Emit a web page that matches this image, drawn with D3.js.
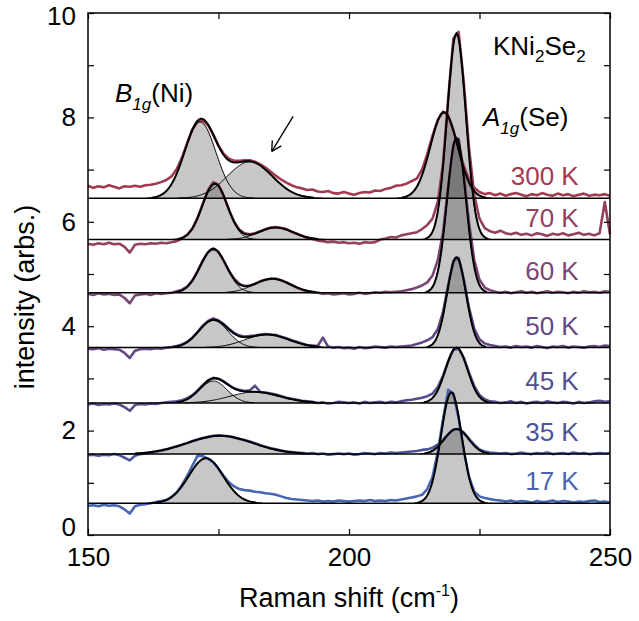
<!DOCTYPE html>
<html>
<head>
<meta charset="utf-8">
<script src="https://cdn.jsdelivr.net/npm/d3@7"></script>
<style>
  body { margin: 0; background: #fff; }
  svg text { font-family: "Liberation Sans", Arial, Helvetica, sans-serif; }
</style>
</head>
<body>
<svg id="chart" width="639" height="621"></svg>
<script>
// spectra, top to bottom
const temps = ["300 K", "70 K", "60 K", "50 K", "45 K", "35 K", "17 K"];
const colors = ["#a33a50", "#94405e", "#7b4573", "#634884", "#544e8e", "#4b5599", "#4865b0"];
const offsets = [6.45, 5.66, 4.64, 3.59, 2.53, 1.55, 0.61];

// fitted gaussians [centre, amplitude, sigma]
const b1gFits = [
  [[171.5, 1.46, 3.0], [181, 0.70, 4.3]],
  [[174.3, 1.07, 2.4], [186, 0.23, 3.3]],
  [[174, 0.84, 2.5], [185.3, 0.27, 3.4]],
  [[174, 0.52, 2.8], [184.3, 0.25, 4.2]],
  [[174, 0.42, 2.6], [182, 0.21, 4.8]],
  [[175.3, 0.35, 6.3]],
  [[172.6, 0.86, 3.3]]
];
const a1gFits = [
  [218.2, 1.65, 2.6],
  [220.6, 3.95, 1.8],
  [220.6, 2.97, 1.8],
  [220.6, 1.73, 1.8],
  [220.6, 1.06, 2.1],
  [220.6, 0.48, 2.3],
  [219.6, 2.12, 2.0]
];

// measured spectra, 150..250 cm-1 in 1 cm-1 steps, relative to each baseline
const raw300 = [0.24,0.20,0.23,0.21,0.25,0.22,0.19,0.23,0.22,0.24,
  0.22,0.25,0.26,0.28,0.31,0.35,0.42,0.56,0.78,1.06,
  1.32,1.47,1.49,1.40,1.22,1.01,0.85,0.76,0.72,0.72,
  0.73,0.73,0.70,0.65,0.59,0.51,0.43,0.36,0.30,0.25,
  0.21,0.19,0.16,0.17,0.13,0.12,0.14,0.10,0.09,0.12,
  0.09,0.07,0.10,0.12,0.11,0.15,0.14,0.18,0.20,0.24,
  0.25,0.28,0.33,0.38,0.55,0.85,1.20,1.50,1.66,1.58,
  1.30,0.95,0.62,0.36,0.20,0.12,0.08,0.10,0.06,0.09,
  0.05,0.08,0.10,0.07,0.04,0.08,0.06,0.10,0.07,0.05,
  0.09,0.06,0.08,0.04,0.07,0.09,0.05,0.07,0.06,0.08,
  0.05];
const raw70 = [-0.08,-0.10,-0.07,-0.09,-0.06,-0.09,-0.08,-0.14,-0.25,-0.10,
  -0.08,-0.09,-0.07,-0.08,-0.06,-0.07,-0.05,-0.03,0.02,0.09,
  0.21,0.42,0.69,0.95,1.10,1.05,0.84,0.57,0.34,0.19,
  0.12,0.10,0.12,0.16,0.20,0.23,0.24,0.22,0.20,0.15,
  0.11,0.07,0.03,0.01,-0.02,-0.03,-0.05,-0.04,-0.06,-0.05,
  -0.07,-0.06,-0.08,-0.05,-0.06,-0.05,0.00,0.02,0.05,0.04,
  0.08,0.10,0.12,0.14,0.20,0.28,0.40,0.72,1.45,2.70,
  3.85,3.98,3.00,1.75,0.85,0.40,0.22,0.16,0.13,0.17,
  0.12,0.10,0.13,0.09,0.11,0.08,0.12,0.10,0.07,0.11,
  0.09,0.12,0.08,0.10,0.13,0.09,0.11,0.08,0.12,0.72,
  0.10];
const raw60 = [-0.02,-0.04,-0.01,-0.03,-0.02,-0.04,-0.03,-0.10,-0.20,-0.05,
  -0.03,-0.02,-0.04,-0.01,-0.02,-0.01,0.00,0.03,0.06,0.12,
  0.24,0.42,0.62,0.78,0.85,0.78,0.61,0.42,0.27,0.17,
  0.13,0.14,0.17,0.22,0.25,0.27,0.27,0.24,0.20,0.15,
  0.10,0.06,0.03,0.01,0.00,-0.02,-0.01,-0.03,-0.02,-0.01,
  -0.03,-0.02,0.00,-0.02,-0.01,0.01,0.00,0.02,0.01,0.02,
  0.03,0.05,0.07,0.10,0.14,0.20,0.33,0.62,1.15,2.05,
  2.85,2.95,2.25,1.35,0.62,0.25,0.10,0.05,0.02,0.00,
  0.02,-0.01,0.01,0.03,0.00,0.02,-0.01,0.01,0.03,0.00,
  0.02,0.01,-0.01,0.02,0.00,0.03,0.01,0.02,0.00,0.03,
  0.02];
const raw50 = [-0.02,-0.03,-0.01,-0.04,-0.02,-0.03,-0.04,-0.10,-0.20,-0.06,
  -0.03,-0.02,-0.03,-0.01,-0.02,0.00,0.01,0.03,0.06,0.11,
  0.19,0.30,0.42,0.51,0.56,0.52,0.45,0.36,0.28,0.23,
  0.21,0.22,0.23,0.25,0.26,0.25,0.24,0.21,0.18,0.14,
  0.11,0.08,0.05,0.04,0.03,0.19,0.02,0.00,0.01,-0.01,
  0.00,-0.02,0.01,-0.01,0.00,0.02,0.01,0.00,0.02,0.01,
  0.02,0.03,0.04,0.07,0.10,0.14,0.20,0.35,0.68,1.20,
  1.66,1.72,1.30,0.76,0.36,0.16,0.08,0.05,0.03,0.01,
  0.02,0.00,0.03,0.01,0.02,0.00,0.03,0.01,-0.01,0.02,
  0.01,0.03,0.00,0.02,0.01,0.00,0.02,0.03,0.01,0.04,
  0.03];
const raw45 = [-0.03,-0.01,-0.04,-0.02,-0.03,-0.01,-0.03,-0.08,-0.15,-0.04,
  -0.02,-0.03,-0.01,-0.02,0.00,0.01,0.02,0.03,0.05,0.09,
  0.15,0.24,0.34,0.43,0.48,0.46,0.41,0.34,0.28,0.25,
  0.23,0.24,0.33,0.21,0.20,0.18,0.16,0.13,0.10,0.08,
  0.06,0.04,0.03,0.02,0.00,0.01,-0.01,0.00,0.02,0.01,
  0.00,0.01,-0.01,0.02,0.00,0.01,0.02,0.00,0.02,0.01,
  0.03,0.05,0.06,0.08,0.10,0.13,0.18,0.30,0.52,0.80,
  1.02,1.04,0.86,0.58,0.32,0.15,0.07,0.03,0.02,0.00,
  0.01,0.03,0.00,0.02,-0.01,0.01,0.02,0.00,0.03,0.01,
  0.00,0.02,0.01,-0.01,0.02,0.00,0.01,0.03,0.04,0.02,
  0.03];
const raw35 = [-0.02,-0.01,-0.03,-0.01,-0.02,0.00,-0.02,-0.07,-0.12,-0.03,
  0.00,0.01,0.03,0.05,0.07,0.09,0.12,0.15,0.18,0.21,
  0.25,0.28,0.31,0.33,0.35,0.36,0.35,0.34,0.32,0.29,
  0.27,0.24,0.21,0.17,0.14,0.11,0.09,0.07,0.05,0.04,
  0.03,0.02,0.01,0.02,0.00,0.01,-0.01,0.00,0.01,0.00,
  0.01,-0.01,0.00,0.02,0.01,0.00,0.02,0.01,0.03,0.02,
  0.03,0.04,0.05,0.06,0.08,0.09,0.12,0.18,0.27,0.38,
  0.47,0.48,0.41,0.29,0.18,0.09,0.05,0.03,0.02,0.01,
  0.02,0.00,0.01,0.03,0.01,0.00,0.02,0.01,0.03,0.00,
  0.01,0.02,0.00,0.03,0.01,0.02,0.00,0.01,0.02,0.01,
  0.02];
const raw17 = [-0.05,-0.04,-0.06,-0.03,-0.05,-0.04,-0.06,-0.12,-0.20,-0.06,
  -0.03,-0.02,0.00,0.02,0.04,0.06,0.12,0.21,0.35,0.52,
  0.72,0.91,0.90,0.85,0.78,0.66,0.52,0.40,0.32,0.27,
  0.25,0.24,0.22,0.21,0.19,0.18,0.16,0.13,0.10,0.08,
  0.07,0.06,0.05,0.04,0.05,0.03,0.04,0.03,0.05,0.04,
  0.03,0.04,0.05,0.04,0.06,0.04,0.05,0.04,0.06,0.05,
  0.07,0.09,0.11,0.13,0.16,0.27,0.50,0.98,1.60,2.17,
  2.10,1.62,1.00,0.50,0.22,0.13,0.10,0.08,0.06,0.05,
  0.03,0.05,0.02,0.04,0.03,0.01,0.04,0.02,0.03,0.05,
  0.02,0.04,0.03,0.01,0.03,0.02,0.04,0.05,0.02,0.03,
  0.01];
const rawSpectra = [raw300, raw70, raw60, raw50, raw45, raw35, raw17];

const xTicks = [150, 175, 200, 225, 250];
const yTicks = [0, 1, 2, 3, 4, 5, 6, 7, 8, 9, 10];

const width = 639, height = 621;
const margin = { top: 13, right: 29, bottom: 86, left: 88 };

const svg = d3.select("#chart");

const x = d3.scaleLinear().domain([150, 250]).range([margin.left, width - margin.right]);
const y = d3.scaleLinear().domain([0, 10]).range([height - margin.bottom, margin.top]);

const shift = d3.range(150, 251); // sampling of the measured spectra
const fine = d3.range(150, 250.001, 0.2); // for drawing fitted curves

const gauss = (v, [c, a, s]) => a * Math.exp(-((v - c) ** 2) / (2 * s * s));

const gFill = svg.append("g");
const gRaw = svg.append("g");
const gBase = svg.append("g");
const gFit = svg.append("g");

temps.forEach((t, i) => {
  const off = offsets[i];
  const comps = [...b1gFits[i], a1gFits[i]];

  // shaded peaks
  gFill.append("path")
    .datum(fine)
    .attr("fill", "#000")
    .attr("fill-opacity", 0.22)
    .attr("d", d3.area()
      .x(v => x(v))
      .y0(y(off))
      .y1(v => y(off + d3.max(comps, c => gauss(v, c)))));

  // measured data
  gRaw.append("path")
    .datum(rawSpectra[i])
    .attr("fill", "none")
    .attr("stroke", colors[i])
    .attr("stroke-width", 2.6)
    .attr("stroke-linejoin", "round")
    .attr("d", d3.line().x((d, k) => x(shift[k])).y(d => y(off + d)));

  // baseline
  gBase.append("line")
    .attr("x1", x(150)).attr("x2", x(250))
    .attr("y1", y(off)).attr("y2", y(off))
    .attr("stroke", "#000")
    .attr("stroke-width", 1.5);

  // individual components
  comps.forEach(c => {
    gFit.append("path")
      .datum(fine)
      .attr("fill", "none")
      .attr("stroke", "#000")
      .attr("stroke-width", 1)
      .attr("d", d3.line()
        .defined(v => gauss(v, c) > 0.004)
        .x(v => x(v))
        .y(v => y(off + gauss(v, c))));
  });

  // total fit
  gFit.append("path")
    .datum(fine)
    .attr("fill", "none")
    .attr("stroke", "#000")
    .attr("stroke-width", 2)
    .attr("d", d3.line()
      .defined(v => d3.sum(comps, c => gauss(v, c)) > 0.012)
      .x(v => x(v))
      .y(v => y(off + d3.sum(comps, c => gauss(v, c)))));

  // temperature label
  svg.append("text")
    .attr("x", x(244))
    .attr("y", y(off) - 13)
    .attr("text-anchor", "end")
    .attr("font-size", 26)
    .attr("fill", colors[i])
    .text(t);
});

// frame
svg.append("rect")
  .attr("x", margin.left).attr("y", margin.top)
  .attr("width", width - margin.left - margin.right)
  .attr("height", height - margin.top - margin.bottom)
  .attr("fill", "none")
  .attr("stroke", "#000")
  .attr("stroke-width", 1.5);

function styleAxis(g) {
  g.select(".domain").remove();
  g.selectAll(".tick line").attr("stroke-width", 1.2);
  g.selectAll("text")
    .attr("font-size", 26)
    .attr("font-family", "Liberation Sans, Arial, sans-serif")
    .attr("fill", "#000");
}

svg.append("g")
  .attr("transform", `translate(0,${y(0)})`)
  .call(d3.axisBottom(x).tickValues(xTicks).tickSize(-6).tickPadding(13)
    .tickFormat(d => (d % 50 === 0 ? d : "")))
  .call(styleAxis);
svg.append("g")
  .attr("transform", `translate(0,${y(10)})`)
  .call(d3.axisTop(x).tickValues(xTicks).tickSize(-6).tickFormat(""))
  .call(styleAxis);
svg.append("g")
  .attr("transform", `translate(${x(150)},0)`)
  .call(d3.axisLeft(y).tickValues(yTicks).tickSize(-6).tickPadding(12)
    .tickFormat(d => (d % 2 === 0 ? d : "")))
  .call(styleAxis)
  .call(g => g.selectAll(".tick text").filter(d => d === 0).attr("dy", "0.02em"))
  .call(g => g.selectAll(".tick text").filter(d => d === 10).attr("dy", "0.45em"));
svg.append("g")
  .attr("transform", `translate(${x(250)},0)`)
  .call(d3.axisRight(y).tickValues(yTicks).tickSize(-6).tickFormat(""))
  .call(styleAxis);

// axis titles
svg.append("text")
  .attr("transform", `translate(34,${(y(0) + y(10)) / 2 + 23}) rotate(-90)`)
  .attr("text-anchor", "middle")
  .attr("font-size", 27)
  .text("intensity (arbs.)");

const xt = svg.append("text")
  .attr("x", x(200))
  .attr("y", 607)
  .attr("text-anchor", "middle")
  .attr("font-size", 27);
xt.append("tspan").text("Raman shift (cm");
xt.append("tspan").attr("font-size", 16).attr("dy", -11).text("-1");
xt.append("tspan").attr("dy", 11).text(")");

// peak / sample annotations
const kn = svg.append("text").attr("x", 493).attr("y", 55).attr("font-size", 26);
kn.append("tspan").text("KNi");
kn.append("tspan").attr("font-size", 17).attr("dy", 7).text("2");
kn.append("tspan").attr("dy", -7).text("Se");
kn.append("tspan").attr("font-size", 17).attr("dy", 7).text("2");

const a1 = svg.append("text").attr("x", 483).attr("y", 126).attr("font-size", 26);
a1.append("tspan").attr("font-style", "italic").text("A");
a1.append("tspan").attr("font-style", "italic").attr("font-size", 17).attr("dy", 8).text("1g");
a1.append("tspan").attr("dy", -8).text("(Se)");

const b1 = svg.append("text").attr("x", 115).attr("y", 102).attr("font-size", 26);
b1.append("tspan").attr("font-style", "italic").text("B");
b1.append("tspan").attr("font-style", "italic").attr("font-size", 17).attr("dy", 8).text("1g");
b1.append("tspan").attr("dy", -8).text("(Ni)");

// arrow to the second B1g mode at 300 K
const tip = [x(185.2), y(7.35)], tail = [x(189.3), y(8.02)];
svg.append("line")
  .attr("x1", tail[0]).attr("y1", tail[1])
  .attr("x2", tip[0]).attr("y2", tip[1])
  .attr("stroke", "#000").attr("stroke-width", 1.3);
const ang = Math.atan2(tip[1] - tail[1], tip[0] - tail[0]);
[-0.5, 0.5].forEach(da => {
  svg.append("line")
    .attr("x1", tip[0]).attr("y1", tip[1])
    .attr("x2", tip[0] - 11 * Math.cos(ang + da))
    .attr("y2", tip[1] - 11 * Math.sin(ang + da))
    .attr("stroke", "#000").attr("stroke-width", 1.3);
});
</script>
</body>
</html>
